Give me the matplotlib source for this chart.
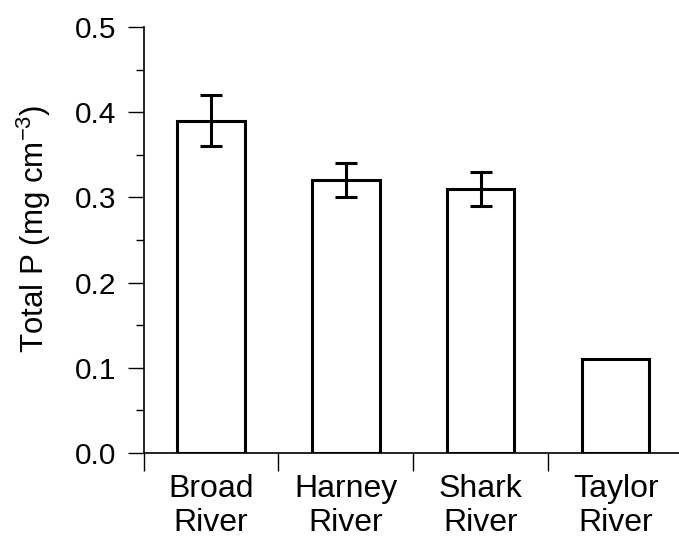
import numpy as np
import matplotlib
matplotlib.use("Agg")
import matplotlib.pyplot as plt

plt.rcParams['font.family'] = ['Liberation Sans', 'DejaVu Sans']
plt.rcParams['mathtext.fontset'] = 'custom'
plt.rcParams['mathtext.rm'] = 'Liberation Sans'
plt.rcParams['mathtext.it'] = 'Liberation Sans'

# data
sites = ["Broad\nRiver", "Harney\nRiver", "Shark\nRiver", "Taylor\nRiver"]
total_p = [0.39, 0.32, 0.31, 0.11]
total_p_err = [0.03, 0.02, 0.02, 0.0]

fig = plt.figure(figsize=(6.79, 5.46), dpi=100)
ax = fig.add_axes([143.6 / 679, 1 - 453 / 546, (683 - 143.6) / 679, (453 - 27) / 546])

x = np.arange(len(sites)) + 0.5
has_err = [e > 0 for e in total_p_err]
ax.bar(x, total_p, width=0.5, color='white', edgecolor='black', linewidth=2.2, zorder=2)
ax.errorbar(x[has_err], np.array(total_p)[has_err], yerr=np.array(total_p_err)[has_err],
            fmt='none', ecolor='black', elinewidth=2.2, capsize=8, capthick=2.2, zorder=3)

ax.set_xlim(0, len(sites))
ax.set_ylim(0, 0.5)

for side in ['top', 'right']:
    ax.spines[side].set_visible(False)
for side in ['left', 'bottom']:
    ax.spines[side].set_linewidth(1.2)

# ticks at category boundaries, labels at centres
ax.set_xticks(np.arange(len(sites)))
ax.set_xticklabels([])
ax.set_xticks(x, minor=True)
ax.set_xticklabels(sites, minor=True, fontsize=23, linespacing=1.2)
ax.tick_params(axis='x', which='major', direction='out', length=13, width=1.0)
ax.tick_params(axis='x', which='minor', length=0, pad=15)

ax.set_yticks(np.arange(0, 0.51, 0.1))
ax.set_yticklabels([f"{v:.1f}" for v in np.arange(0, 0.51, 0.1)], fontsize=21.5)
ax.set_yticks(np.arange(0.05, 0.5, 0.1), minor=True)
ax.tick_params(axis='y', which='major', direction='out', length=11.5, width=1.0, pad=8)
ax.tick_params(axis='y', which='minor', direction='out', length=5.8, width=1.0)

ax.set_ylabel("Total P (mg cm$^{\\mathrm{-3}}$)", fontsize=22.5)
ax.yaxis.set_label_coords(-0.168, 0.526)

fig.savefig("out.png", dpi=100)
